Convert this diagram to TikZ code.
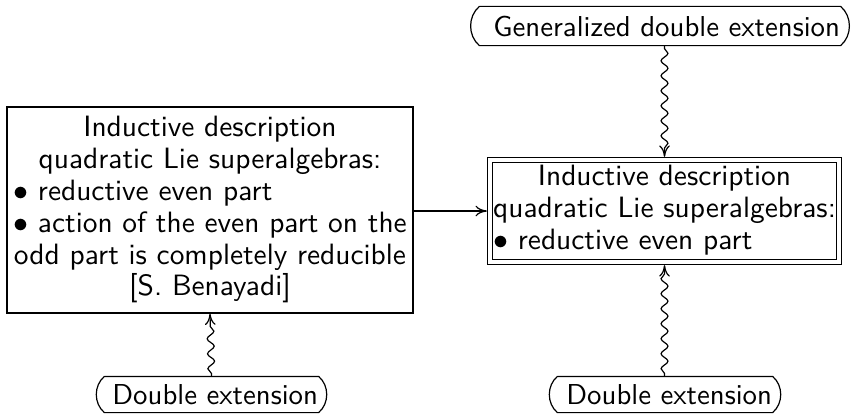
\documentclass[tikz,border=0pt]{standalone}
\usetikzlibrary{decorations.pathmorphing,arrows.meta}
\begin{document}
\begin{tikzpicture}[x=0.33333pt,y=-0.33333pt,
  every node/.style={font=\sffamily\fontsize{9.8pt}{10.6pt}\selectfont},
  box/.style={draw, line width=0.4pt, inner sep=0pt},
  dbox/.style={draw, double, double distance=1.3pt, line width=0.4pt, inner sep=0pt, outer sep=1.1pt},
  pill/.style={inner xsep=0pt, inner ysep=0pt, font=\sffamily\fontsize{9.6pt}{10.6pt}\selectfont},
  frame/.style={line width=0.4pt},
  arr/.style={line width=0.4pt, -{To[length=3.8pt,width=3.6pt]}},
  squig/.style={decorate, decoration={snake, amplitude=1.15pt, segment length=5pt, pre length=1pt, post length=2.5pt}}]
\useasboundingbox (0,0) rectangle (852,413);

\node[box, minimum width=135.33pt, minimum height=68.67pt] (L) at (210,210)
 {\begin{tabular}{@{}c@{}}Inductive description\\ quadratic Lie superalgebras:\\ \multicolumn{1}{@{}l@{}}{$\bullet$ reductive even part}\\ $\bullet$ action of the even part on the\\ odd part is completely reducible\\ {[S. Benayadi]}\end{tabular}};

\node[dbox, minimum width=116.2pt, minimum height=33.9pt] (R) at (664.5,211)
 {\begin{tabular}{@{}c@{}}Inductive description\\ quadratic Lie superalgebras:\\ \multicolumn{1}{@{}l@{}}{$\bullet$ reductive even part}\end{tabular}};

\node[pill, minimum height=12.67pt] (gde) at (660,26) {\hbox to 120pt{\hfil Generalized double extension}};
\node[pill, minimum height=11.67pt] (del) at (211.5,394.5) {\hbox to 71pt{\hfil Double extension}};
\node[pill, minimum height=11.67pt] (der) at (665,394.5) {\hbox to 71.33pt{\hfil Double extension}};

\foreach \n in {gde,del,der}
  \draw[frame] (\n.north west) -- (\n.north east) to[bend left=50] (\n.south east)
     -- (\n.south west) to[bend left=50] (\n.north west);

\draw[arr] (L.east |- R.west) -- (R.west);
\draw[squig, arr] (gde.south -| R.north) -- (R.north);
\draw[squig, arr] (del.north) -- (L.south);
\draw[squig, arr] (der.north -| R.south) -- (R.south);
\end{tikzpicture}
\end{document}
